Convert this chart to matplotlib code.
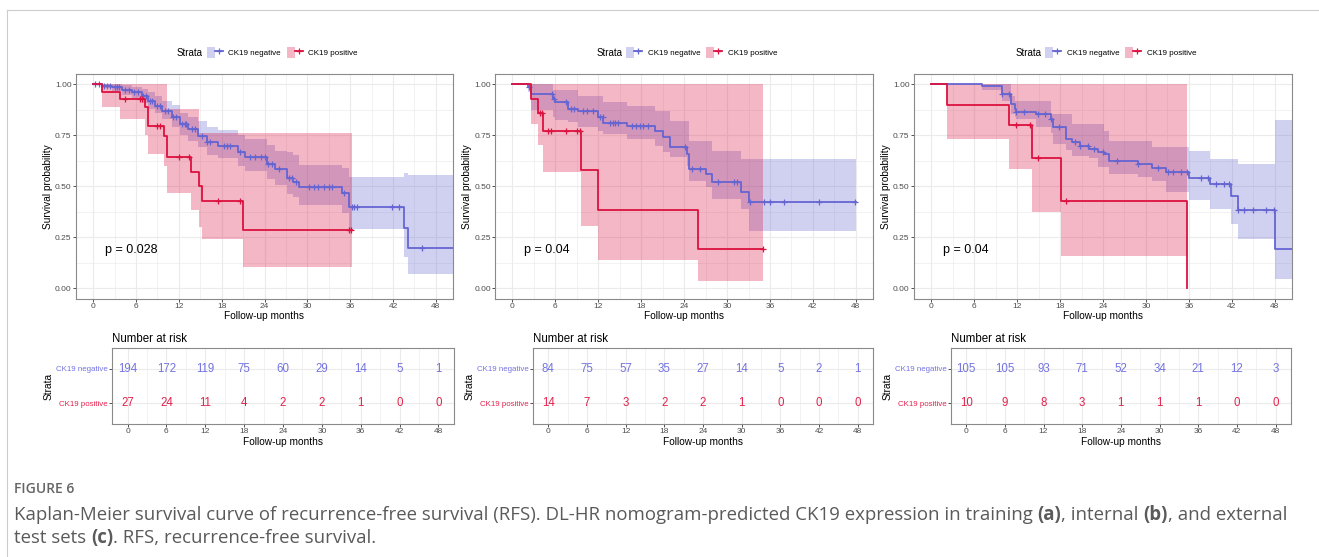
import numpy as np
import matplotlib
matplotlib.use('Agg')
import matplotlib.pyplot as plt
from matplotlib.lines import Line2D
from matplotlib.patches import Patch
from matplotlib.legend_handler import HandlerTuple
from matplotlib.ticker import MultipleLocator

plt.rcParams['font.family'] = ['Liberation Sans', 'DejaVu Sans']

W, H = 1319, 557
BLUE = '#6565D2'
RED = '#DC1140'
BLUE_TXT = '#7373E0'
RED_TXT = '#E3224C'
GRID = '#EBEBEB'

# ---- data ----
risk_times = [0, 6, 12, 18, 24, 30, 36, 42, 48]
strata = ['CK19 negative', 'CK19 positive']

# (a) training
neg_t_a = [0, 1.2, 2.6, 4.0, 5.4, 6.8, 7.7, 8.6, 9.6, 11.0, 12.1, 13.3, 14.7, 15.9, 17.5, 20.3, 21.2, 24.3, 25.5, 27.1, 28.0, 28.9, 34.8, 35.9, 43.6, 44.1]
neg_s_a = [1.0, 0.993, 0.985, 0.973, 0.96, 0.944, 0.92, 0.895, 0.87, 0.838, 0.805, 0.78, 0.748, 0.715, 0.699, 0.666, 0.642, 0.609, 0.585, 0.539, 0.522, 0.495, 0.465, 0.397, 0.294, 0.196]
neg_lo_a = [1.0, 0.98, 0.965, 0.945, 0.93, 0.91, 0.88, 0.86, 0.83, 0.79, 0.75, 0.72, 0.69, 0.655, 0.64, 0.60, 0.575, 0.535, 0.505, 0.46, 0.445, 0.41, 0.367, 0.29, 0.155, 0.07]
neg_hi_a = [1.0, 1.0, 1.0, 0.995, 0.985, 0.975, 0.96, 0.94, 0.92, 0.9, 0.86, 0.84, 0.82, 0.79, 0.775, 0.75, 0.73, 0.70, 0.675, 0.67, 0.654, 0.605, 0.588, 0.547, 0.567, 0.555]
neg_end_a = 51
neg_cens_a = [0.3, 0.8, 1.5, 2.0, 2.3, 3.0, 3.3, 3.6, 4.5, 5.0, 5.7, 6.3, 7.0, 7.4, 8.0, 8.3, 9.0, 9.3, 10.0, 10.5, 11.2, 11.6,
              12.4, 12.8, 13.0, 13.8, 14.2, 15.3, 16.0, 16.4, 18.3, 18.8, 19.2, 20.6, 22.0, 22.7, 23.5, 24.0, 24.5, 25.0, 26.0,
              27.4, 27.8, 28.4, 30.3, 31.0, 31.5, 32.4, 33.0, 33.4, 35.1, 36.2, 36.6, 37.0, 41.8, 42.9, 46.1]
pos_t_a = [0, 1.2, 3.7, 7.3, 7.7, 9.9, 10.3, 13.7, 14.8, 15.2, 21.0]
pos_s_a = [1.0, 0.963, 0.926, 0.887, 0.797, 0.748, 0.642, 0.569, 0.50, 0.43, 0.286]
pos_lo_a = [1.0, 0.89, 0.83, 0.75, 0.657, 0.60, 0.466, 0.384, 0.30, 0.242, 0.106]
pos_hi_a = [1.0, 1.0, 1.0, 1.0, 1.0, 1.0, 0.88, 0.88, 0.76, 0.76, 0.76]
pos_end_a = 36.2
pos_cens_a = [4.4, 6.6, 6.8, 8.9, 9.3, 12.0, 13.4, 17.5, 20.5, 35.8, 36.1]
risk_neg_a = [194, 172, 119, 75, 60, 29, 14, 5, 1]
risk_pos_a = [27, 24, 11, 4, 2, 2, 1, 0, 0]
pval_a = 'p = 0.028'

# (b) internal
neg_t_b = [0, 2.2, 2.6, 5.6, 6.0, 7.8, 9.2, 12.0, 12.7, 16.0, 19.9, 21.1, 22.0, 24.4, 24.7, 27.0, 27.9, 31.9, 33.0]
neg_s_b = [1.0, 0.988, 0.952, 0.928, 0.912, 0.88, 0.867, 0.838, 0.81, 0.795, 0.773, 0.74, 0.69, 0.657, 0.585, 0.56, 0.52, 0.47, 0.425]
neg_lo_b = [1.0, 0.96, 0.873, 0.838, 0.825, 0.813, 0.789, 0.77, 0.756, 0.731, 0.699, 0.67, 0.642, 0.60, 0.527, 0.495, 0.438, 0.389, 0.283]
neg_hi_b = [1.0, 1.0, 1.0, 0.972, 0.972, 0.972, 0.944, 0.944, 0.911, 0.895, 0.871, 0.871, 0.822, 0.822, 0.723, 0.723, 0.675, 0.634, 0.634]
neg_end_b = 48.0
neg_cens_b = [2.3, 5.5, 5.8, 7.5, 8.2, 8.6, 9.8, 10.4, 11.2, 12.3, 12.6, 13.7, 14.0, 14.4, 14.8, 16.7, 17.2, 17.8, 18.3, 19.0,
              24.1, 25.1, 26.2, 28.8, 30.9, 31.4, 33.2, 35.1, 36.0, 37.9, 42.9, 47.9]
pos_t_b = [0, 2.6, 3.6, 4.2, 9.6, 12.0, 26.0]
pos_s_b = [1.0, 0.929, 0.857, 0.771, 0.578, 0.385, 0.193]
pos_lo_b = [1.0, 0.805, 0.70, 0.572, 0.303, 0.138, 0.034]
pos_hi_b = [1.0, 1.0, 1.0, 1.0, 1.0, 1.0, 1.0]
pos_end_b = 35.0
pos_cens_b = [3.9, 4.1, 5.0, 5.4, 7.5, 9.0, 9.5, 35.0]
risk_neg_b = [84, 75, 57, 35, 27, 14, 5, 2, 1]
risk_pos_b = [14, 7, 3, 2, 2, 1, 0, 0, 0]
pval_b = 'p = 0.04'

# (c) external
neg_t_c = [0, 7.05, 9.84, 11.2, 11.7, 11.9, 14.7, 16.8, 17.0, 18.9, 19.6, 20.8, 22.1, 23.3, 24.2, 24.9, 28.9, 30.9, 32.8, 36.0, 38.9, 41.9, 42.8, 48.0]
neg_s_c = [1.0, 0.99, 0.952, 0.903, 0.879, 0.862, 0.854, 0.83, 0.789, 0.732, 0.716, 0.699, 0.683, 0.67, 0.658, 0.626, 0.609, 0.59, 0.569, 0.541, 0.512, 0.45, 0.385, 0.193]
neg_lo_c = [1.0, 0.97, 0.92, 0.854, 0.84, 0.83, 0.789, 0.76, 0.707, 0.68, 0.65, 0.65, 0.64, 0.593, 0.593, 0.56, 0.544, 0.527, 0.47, 0.432, 0.388, 0.315, 0.242, 0.046]
neg_hi_c = [1.0, 1.0, 1.0, 0.944, 0.92, 0.92, 0.92, 0.854, 0.854, 0.854, 0.804, 0.804, 0.804, 0.804, 0.773, 0.723, 0.723, 0.691, 0.691, 0.671, 0.634, 0.634, 0.609, 0.825]
neg_end_c = 51
neg_cens_c = [9.9, 10.9, 11.9, 12.9, 14.9, 15.9, 16.8, 17.9, 20.1, 20.8, 21.9, 22.8, 24.0, 25.9, 28.9, 31.7, 33.1, 33.8,
              34.9, 35.8, 37.7, 38.6, 39.8, 40.9, 41.6, 42.9, 43.7, 44.9, 46.7, 47.9]
pos_t_c = [0, 2.2, 10.9, 14.1, 18.1, 35.8]
pos_s_c = [1.0, 0.9, 0.8, 0.64, 0.427, 0.0]
pos_lo_c = [1.0, 0.73, 0.585, 0.372, 0.16, np.nan]
pos_hi_c = [1.0, 1.0, 1.0, 1.0, 1.0, np.nan]
pos_end_c = 35.8
pos_cens_c = [11.9, 13.8, 14.9, 18.9]
risk_neg_c = [105, 105, 93, 71, 52, 34, 21, 12, 3]
risk_pos_c = [10, 9, 8, 3, 1, 1, 1, 0, 0]
pval_c = 'p = 0.04'

panels = [
    dict(neg=(neg_t_a, neg_s_a, neg_lo_a, neg_hi_a, neg_end_a, neg_cens_a),
         pos=(pos_t_a, pos_s_a, pos_lo_a, pos_hi_a, pos_end_a, pos_cens_a),
         risk=(risk_neg_a, risk_pos_a), pval=pval_a),
    dict(neg=(neg_t_b, neg_s_b, neg_lo_b, neg_hi_b, neg_end_b, neg_cens_b),
         pos=(pos_t_b, pos_s_b, pos_lo_b, pos_hi_b, pos_end_b, pos_cens_b),
         risk=(risk_neg_b, risk_pos_b), pval=pval_b),
    dict(neg=(neg_t_c, neg_s_c, neg_lo_c, neg_hi_c, neg_end_c, neg_cens_c),
         pos=(pos_t_c, pos_s_c, pos_lo_c, pos_hi_c, pos_end_c, pos_cens_c),
         risk=(risk_neg_c, risk_pos_c), pval=pval_c),
]

# layout boxes in pixels: left, top, right, bottom
main_box = [(76, 74, 453, 298.5), (495.3, 74, 873, 298.5), (914, 74, 1292, 298.5)]
table_box = [(112, 348.3, 454, 424), (532.7, 348.3, 873.3, 424), (950.7, 348.3, 1291, 424)]


def rect(l, t, r, b):
    return [l / W, 1 - b / H, (r - l) / W, (b - t) / H]


def stepxy(t, v, end):
    x = np.repeat(list(t) + [end], 2)[1:-1]
    y = np.repeat(np.asarray(v, dtype=float), 2)
    return x, y


def style_axes(ax):
    ax.set_xlim(-2.4, 50.4)
    ax.set_xticks(risk_times)
    ax.xaxis.set_minor_locator(MultipleLocator(3))
    ax.set_axisbelow(True)
    ax.grid(which='major', color=GRID, lw=0.8)
    ax.grid(which='minor', axis='x', color=GRID, lw=0.45)
    ax.tick_params(which='minor', length=0)
    ax.tick_params(which='major', length=2, width=0.6, color='#333333',
                   labelsize=6, labelcolor='#4D4D4D', pad=1.2)
    for sp in ax.spines.values():
        sp.set_color('#8A8A8A')
        sp.set_linewidth(0.8)


fig = plt.figure(figsize=(W / 100, H / 100), dpi=100)

for i, p in enumerate(panels):
    ax = fig.add_axes(rect(*main_box[i]))
    for key, color in (('neg', BLUE), ('pos', RED)):
        t, s, lo, hi, end, cens = p[key]
        x, _ = stepxy(t, s, end)
        _, ylo = stepxy(t, lo, end)
        _, yhi = stepxy(t, hi, end)
        ax.fill_between(x, ylo, yhi, color=color, alpha=0.3, lw=0)
    for key, color in (('neg', BLUE), ('pos', RED)):
        t, s, lo, hi, end, cens = p[key]
        x, y = stepxy(t, s, end)
        ax.plot(x, y, color=color, lw=1.3)
        idx = np.searchsorted(t, cens, side='right') - 1
        ax.plot(cens, np.asarray(s)[idx], ls='none', marker='+', ms=5,
                mew=0.9, color=color)
    style_axes(ax)
    ax.set_ylim(-0.05, 1.05)
    ax.set_yticks([0, 0.25, 0.5, 0.75, 1.0])
    ax.set_yticklabels(['0.00', '0.25', '0.50', '0.75', '1.00'])
    ax.yaxis.set_minor_locator(MultipleLocator(0.125))
    ax.grid(which='minor', axis='y', color=GRID, lw=0.45)
    ax.set_xlabel('Follow-up months', fontsize=7.3, labelpad=1)
    ax.set_ylabel('Survival probability', fontsize=7.3, labelpad=1.5)
    ax.text(1.6, 0.19, p['pval'], fontsize=9, ha='left', va='center')

    # legend above the panel
    cx = (main_box[i][0] + main_box[i][2]) / 2
    handles = [(Patch(facecolor=c, alpha=0.3, lw=0),
                Line2D([], [], color=c, lw=1.3, marker='+', ms=5, mew=0.9))
               for c in (BLUE, RED)]
    fig.legend(handles, strata, loc='center left',
               bbox_to_anchor=((cx - 57.8) / W, 1 - 52.7 / H),
               handler_map={tuple: HandlerTuple(ndivide=None)},
               ncol=2, frameon=False, fontsize=5.8, borderpad=0,
               borderaxespad=0, handlelength=2.0, handleheight=1.65,
               handletextpad=0.65, columnspacing=0.75)
    fig.text((cx - 61.8) / W, 1 - 52.7 / H, 'Strata', fontsize=7,
             ha='right', va='center')

    # number at risk table
    tax = fig.add_axes(rect(*table_box[i]))
    for row, vals, c in ((2, p['risk'][0], BLUE_TXT), (1, p['risk'][1], RED_TXT)):
        for tt, v in zip(risk_times, vals):
            tax.text(tt, row, str(v), ha='center', va='center', color=c, fontsize=8.3)
    style_axes(tax)
    tax.set_ylim(0.4, 2.6)
    tax.set_yticks([2, 1])
    tax.set_yticklabels(strata, fontsize=5.7)
    for lab, c in zip(tax.get_yticklabels(), (BLUE_TXT, RED_TXT)):
        lab.set_color(c)
    tax.set_title('Number at risk', loc='left', fontsize=8.3, pad=4.5)
    tax.set_xlabel('Follow-up months', fontsize=7.3, labelpad=1)
    tax.set_ylabel('Strata', fontsize=7.3, labelpad=1.5)

# frame lines of the figure page
fig.add_artist(Line2D([6.5 / W, 1], [1 - 10 / H, 1 - 10 / H], color='#CCCCCC', lw=0.8))
fig.add_artist(Line2D([6.5 / W, 6.5 / W], [0, 1 - 10 / H], color='#CCCCCC', lw=0.8))

# caption
cap_kw = dict(family=['Open Sans', 'DejaVu Sans'], color='#5A5A5A', fontsize=13.4)
fig.text(14 / W, 1 - 489 / H, 'FIGURE 6', family=['Open Sans', 'DejaVu Sans'],
         weight='semibold', color='#666666', fontsize=10, va='center')

renderer = fig.canvas.get_renderer()


def text_width(s, weight):
    a = fig.text(0, 0, 'X' + s + 'X', weight=weight, **cap_kw)
    b = fig.text(0, 0, 'XX', weight=weight, **cap_kw)
    w = a.get_window_extent(renderer).width - b.get_window_extent(renderer).width
    a.remove()
    b.remove()
    return w


def draw_runs(x0, y, runs):
    x = x0
    for s, weight in runs:
        fig.text(x / W, 1 - y / H, s, weight=weight, va='center', ha='left', **cap_kw)
        x += text_width(s, weight)


draw_runs(14, 515, [
    ('Kaplan-Meier survival curve of recurrence-free survival (RFS). DL-HR nomogram-predicted '
     'CK19 expression in training ', 'normal'),
    ('(a)', 'bold'), (', internal ', 'normal'), ('(b)', 'bold'), (', and external', 'normal')])
draw_runs(14, 538, [('test sets ', 'normal'), ('(c)', 'bold'),
                    ('. RFS, recurrence-free survival.', 'normal')])

fig.savefig('out.png', dpi=100)
